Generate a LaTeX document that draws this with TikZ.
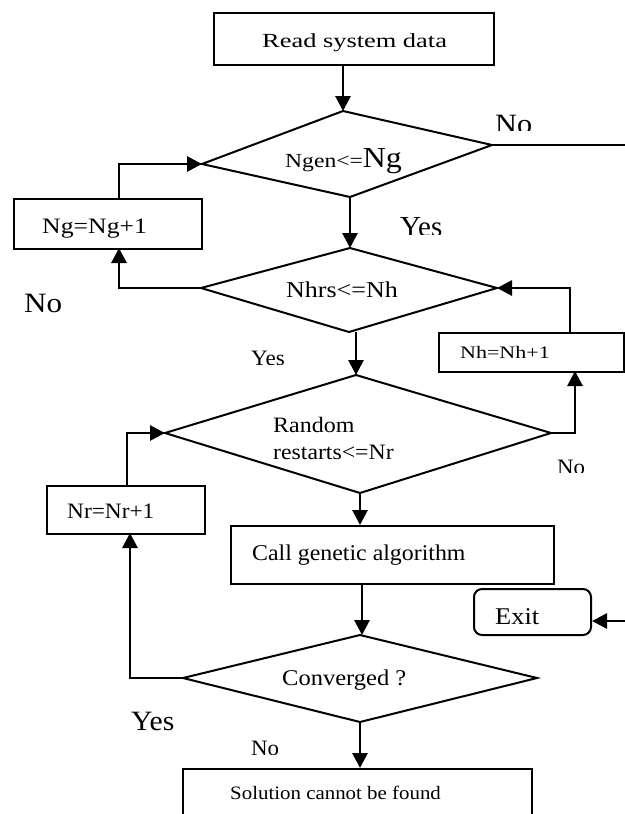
\documentclass[tikz,border=0pt]{standalone}
\usepackage{fontspec}
\usepackage{graphicx}
\setmainfont{Liberation Serif}
\usetikzlibrary{arrows.meta}
\newcommand{\tx}[3]{\scalebox{#2}[1]{\fontsize{#1}{#1}\selectfont #3}}
\begin{document}
\begin{tikzpicture}[x=1pt,y=-1pt,
  shapeline/.style={line width=2pt},
  conn/.style={line width=2.8pt},
  arr/.style={conn,-{Triangle[length=15pt,width=15pt]}},
  txt/.style={inner sep=0pt,anchor=base west},
  boxnode/.style={draw,line width=2pt,inner sep=0pt,anchor=north west}]
\useasboundingbox (0,0) rectangle (624,814);
\fill[white] (0,0) rectangle (624,814);

% boxes
\node[boxnode,minimum width=280pt,minimum height=52pt] (read) at (213,12) {};
\node[boxnode,minimum width=188pt,minimum height=50pt] (ng) at (13,198) {};
\node[boxnode,minimum width=185pt,minimum height=39pt] (nh) at (438,332) {};
\node[boxnode,minimum width=158pt,minimum height=48pt] (nr) at (46,485) {};
\node[boxnode,minimum width=323pt,minimum height=58pt] (ga) at (230,525) {};
\node[boxnode,rounded corners=8pt,minimum width=117pt,minimum height=46pt] (exit) at (473,588) {};
\node[boxnode,minimum width=349pt,minimum height=70pt] (sol) at (182,768) {};

% diamonds
\coordinate (d1t) at (343,111); \coordinate (d1l) at (202,164);
\coordinate (d1r) at (492,145); \coordinate (d1b) at (350,197);
\coordinate (d2t) at (350,248); \coordinate (d2l) at (201,288);
\coordinate (d2r) at (497,288); \coordinate (d2b) at (349,332);
\coordinate (d3t) at (356,375); \coordinate (d3l) at (165,433);
\coordinate (d3r) at (551,433); \coordinate (d3b) at (360,493);
\coordinate (d4t) at (360,635); \coordinate (d4l) at (183,678);
\coordinate (d4r) at (537,678); \coordinate (d4b) at (360,722);
\draw[shapeline] (d1t) -- (d1r) -- (d1b) -- (d1l) -- cycle;
\draw[shapeline] (d2t) -- (d2r) -- (d2b) -- (d2l) -- cycle;
\draw[shapeline] (d3t) -- (d3r) -- (d3b) -- (d3l) -- cycle;
\draw[shapeline] (d4t) -- (d4r) -- (d4b) -- (d4l) -- cycle;

% texts
\node[txt] (t1) at (262,47) {\tx{20}{1.32}{Read system data}};
\node[txt] (t2) at (285,167) {\tx{20}{1.18}{Ngen<=}\tx{29}{1.1}{Ng}};
\node[txt] (t3) at (286,297) {\tx{22.6}{1.15}{Nhrs<=Nh}};
\node[txt] (t4) at (42,233) {\tx{22}{1.17}{Ng=Ng+1}};
\node[txt] (t5) at (460,358) {\tx{17.6}{1.25}{Nh=Nh+1}};
\node[txt] (t6) at (273,432) {\tx{22}{1.09}{Random}};
\node[txt] (t7) at (273,459) {\tx{22}{1.08}{restarts<=Nr}};
\node[txt] (t8) at (67,518) {\tx{22}{1.06}{Nr=Nr+1}};
\node[txt] (t9) at (252,560) {\tx{22.5}{1.06}{Call genetic algorithm}};
\node[txt] (t10) at (495,624) {\tx{24}{1.1}{Exit}};
\node[txt] (t11) at (282,685) {\tx{22.5}{1.09}{Converged ?}};
\node[txt] (t12) at (230,799) {\tx{19}{1.1}{Solution cannot be found}};
\node[txt] (t13) at (24,312) {\tx{28}{1.11}{No}};
\node[txt] (t14) at (131,730) {\tx{28}{1.06}{Yes}};

% clipped labels
\begin{scope}
\clip (480,100) rectangle (545,130);
\node[txt] (t15) at (495,133.5) {\tx{28}{1.08}{No}};
\end{scope}
\begin{scope}
\clip (390,200) rectangle (460,234);
\node[txt] (t16) at (400,236) {\tx{29}{1.0}{Yes}};
\end{scope}
\begin{scope}
\clip (240,340) rectangle (300,364);
\node[txt] (t17) at (251,365.5) {\tx{22}{1.05}{Yes}};
\end{scope}
\begin{scope}
\clip (550,450) rectangle (600,472.5);
\node[txt] (t18) at (557,474) {\tx{22}{1.04}{No}};
\end{scope}
\begin{scope}
\clip (240,730) rectangle (300,754);
\node[txt] (t19) at (251,755.5) {\tx{22}{1.04}{No}};
\end{scope}

% connectors
\draw[arr] (d1t |- read.south) -- (d1t);
\coordinate (exitin) at (exit.east |- 0,621);
\draw[arr] (d1r) -- (640,145) -- (640,621) -- (exitin);
\draw[arr] (d1b) -- (d2t);
\draw[arr] (d2l) -- (119,288) -- (119,248);
\draw[conn] (119,198) -- (119,164) -- (d1l);
\draw[arr] (119,164) -- (d1l);
\draw[arr] (356,332) -- (d3t);
\draw[arr] (570,332) -- (570,288) -- (d2r);
\draw[arr] (d3r) -- (575,433) -- (575,371);
\draw[arr] (127,485) -- (127,433) -- (d3l);
\draw[arr] (d3b) -- (d3b |- ga.north);
\draw[arr] (362,583) -- (362,635);
\draw[arr] (d4l) -- (130,678) -- (130,533);
\draw[arr] (d4b) -- (d4b |- sol.north);
\end{tikzpicture}
\end{document}
